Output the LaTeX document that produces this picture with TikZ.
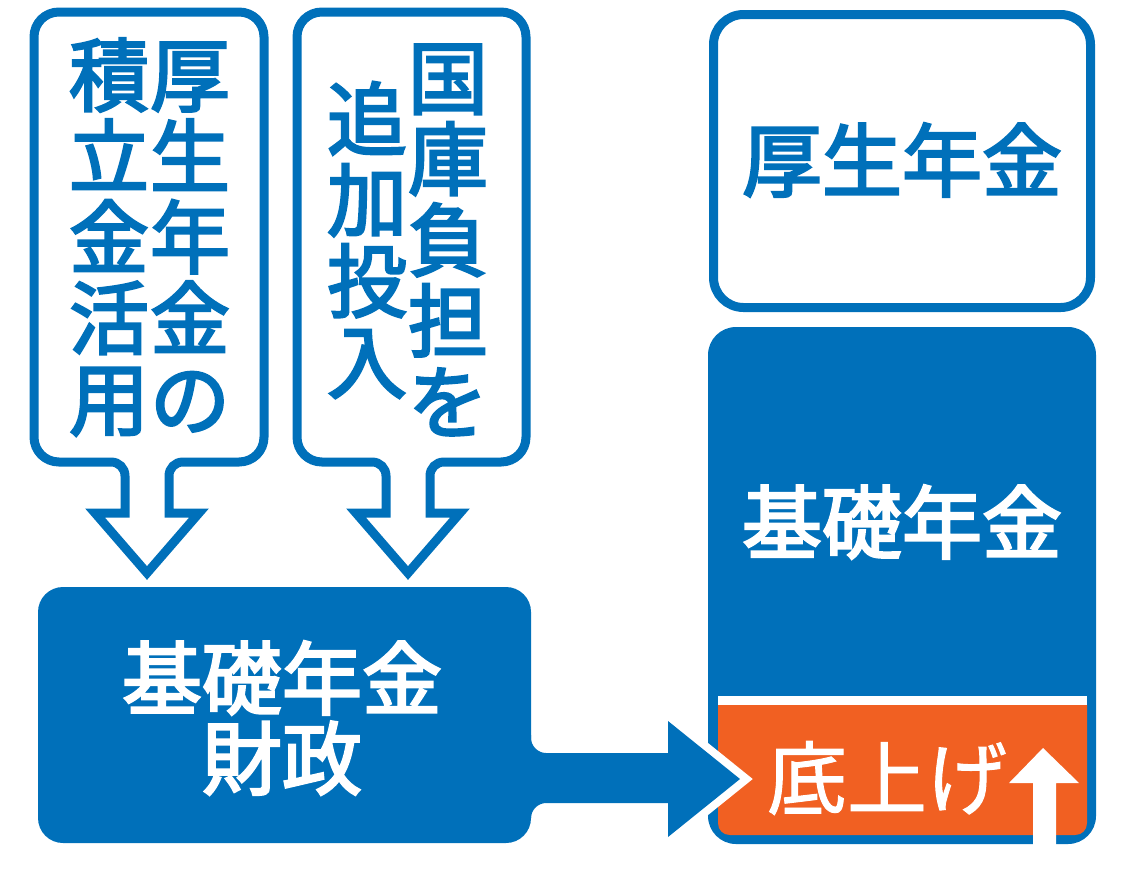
\documentclass[tikz,border=0pt]{standalone}
\usepackage{fontspec}
\newfontfamily\jp{Noto Sans CJK JP}[FakeBold=3]
\newfontfamily\jpl{Noto Sans CJK JP}[FakeBold=1.2]
\definecolor{nblue}{RGB}{0,112,186}
\definecolor{norange}{RGB}{241,96,34}
\begin{document}
\begin{tikzpicture}[x=1pt,y=-1pt,
  outl/.style={draw=nblue,line width=9pt,fill=white,line join=miter},
  jtext/.style={font=\jp\fontsize{80}{81}\selectfont, inner sep=0pt, align=center},
  jreg/.style={font=\jpl\fontsize{80}{81}\selectfont, inner sep=0pt, align=center},
  bluebox/.style={fill=nblue, draw=none, inner sep=0pt},
]
\useasboundingbox (0,0) rectangle (1134,879);

% callout 1
\draw[outl] (34,37) .. controls (34,23) and (45,12) .. (59,12)
  -- (239,12) .. controls (253,12) and (264,23) .. (264,37)
  -- (264,437) .. controls (264,451) and (253,462) .. (239,462)
  -- (183,462) .. controls (175,462) and (169,468) .. (169,476)
  -- (169,513) -- (199,513) -- (147,573) -- (95,513) -- (125,513)
  -- (125,476) .. controls (125,468) and (119,462) .. (111,462)
  -- (59,462) .. controls (45,462) and (34,451) .. (34,437) -- cycle;
% callout 2
\draw[outl] (297,37) .. controls (297,23) and (308,12) .. (322,12)
  -- (501,12) .. controls (515,12) and (526,23) .. (526,37)
  -- (526,437) .. controls (526,451) and (515,462) .. (501,462)
  -- (444,462) .. controls (436,462) and (430,468) .. (430,476)
  -- (430,513) -- (460,513) -- (408,573) -- (356,513) -- (386,513)
  -- (386,476) .. controls (386,468) and (380,462) .. (372,462)
  -- (322,462) .. controls (308,462) and (297,451) .. (297,437) -- cycle;

\node[jtext, text=nblue] (c1r) at (190,237) {厚\\生\\年\\金\\の};
\node[jtext, text=nblue] (c1l) at (109,237) {積\\立\\金\\活\\用};
\node[jtext, text=nblue] (c2r) at (448,240) {国\\庫\\負\\担\\を};
\node[jtext, text=nblue] (c2l) at (367,240) {追\\加\\投\\入};

% top right box
\node[draw=nblue, line width=9pt, rounded corners=30pt, fill=white,
      minimum width=377pt, minimum height=293pt, inner sep=0pt] (kosei) at (902,161) {};
\node[jtext, text=nblue] (koseit) at (902,160) {厚生年金};

% lower right box
\node[bluebox, rounded corners=28pt, minimum width=388pt, minimum height=517pt] (kiso) at (902,585.5) {};
\node[jtext, text=white] (kisot) at (902,522) {基礎年金};
\fill[white] (718,696) rectangle (1087,705);
\fill[norange] (718,705) -- (1087,705) -- (1087,823)
  .. controls (1087,830) and (1082,835) .. (1075,835) -- (730,835)
  .. controls (723,835) and (718,830) .. (718,823) -- cycle;
\node[jreg, text=white] (soko) at (887,778) {底上げ};
\fill[white] (1043,748) -- (1079,783) -- (1056,783) -- (1056,846)
  -- (1033,846) -- (1033,783) -- (1009,783) -- cycle;

% big arrow
\def\bigarrow{(515,735) -- (531,735) -- (531,738) .. controls (531,746) and (538,753) .. (546,753)
  -- (668,753) -- (668,721) -- (740,779) -- (668,837) -- (668,803) -- (546,803)
  .. controls (538,803) and (531,810) .. (531,818) -- (515,818) -- cycle}
\draw[white, line width=16pt, line join=miter] \bigarrow;
\fill[nblue] \bigarrow;

% left box
\node[bluebox, rounded corners=25pt, minimum width=493pt, minimum height=256pt] (zaisei) at (284.5,715) {};
\node[jtext, text=white, font=\jp\fontsize{80}{80}\selectfont] (zaiseit) at (282,718) {基礎年金\\財政};
\end{tikzpicture}
\end{document}
